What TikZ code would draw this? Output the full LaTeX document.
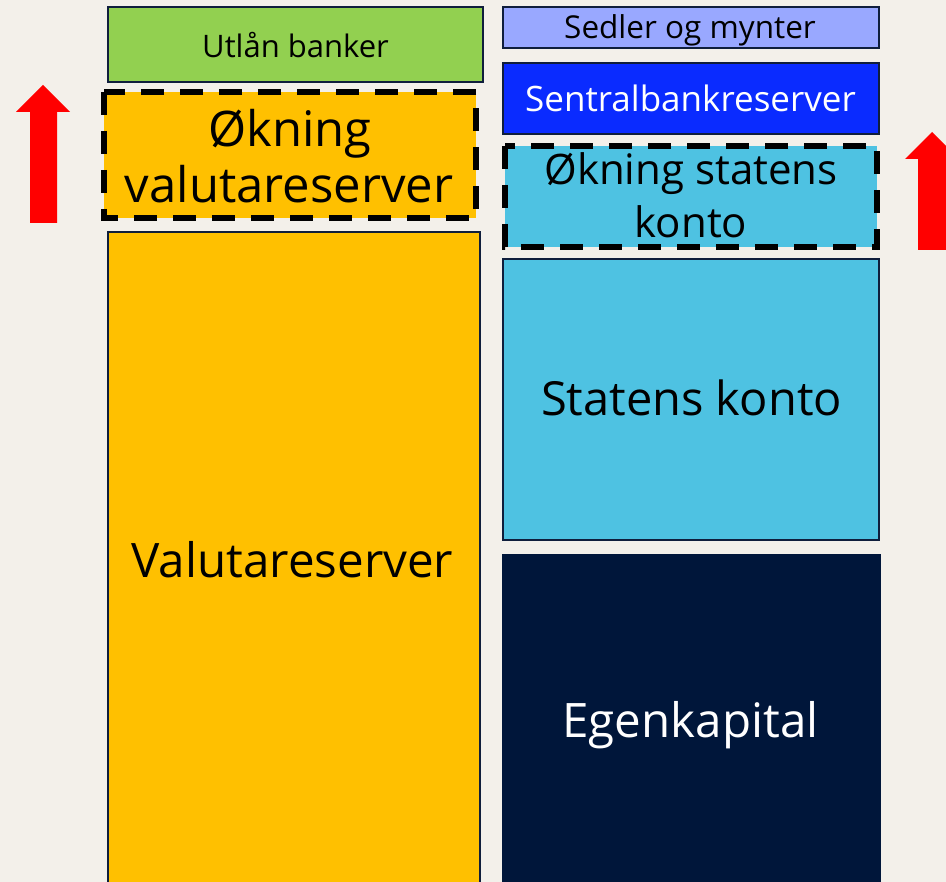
\documentclass[tikz,border=0pt]{standalone}
\usepackage{fontspec}
\setmainfont{Open Sans}
\definecolor{bg}{HTML}{F3F0EA}
\definecolor{grn}{HTML}{92D050}
\definecolor{ylw}{HTML}{FFC000}
\definecolor{lav}{HTML}{99A8FF}
\definecolor{blu}{HTML}{0A2BFF}
\definecolor{cyn}{HTML}{4EC2E2}
\definecolor{nvy}{HTML}{00163A}
\definecolor{edge}{HTML}{0F1E3C}
\tikzset{
  blk/.style={draw=edge, line width=1.6pt, inner sep=0pt, outer sep=0pt},
  dbox/.style={draw=black, line width=5.5pt, dash pattern=on 23pt off 16pt, inner sep=0pt, outer sep=0pt},
  lbl/.style={anchor=base, text=black, inner sep=0pt}
}
\begin{document}
\begin{tikzpicture}[x=1pt,y=-1pt]
\fill[bg] (0,0) rectangle (946,882);
\useasboundingbox (0,0) rectangle (946,882);
% left column
\draw[blk, fill=grn] (108,7) rectangle (483,82);
\node[lbl, font=\fontsize{31}{36}\selectfont] (utlan) at (295.5,58) {Utlån banker};
\draw[dbox, fill=ylw] (104,92) rectangle (476,218);
\node[lbl, font=\fontsize{49}{56}\selectfont] (okval1) at (290,147) {Økning};
\node[lbl, font=\fontsize{49}{56}\selectfont] (okval2) at (289,203) {valutareserver};
\draw[blk, fill=ylw] (108,232) rectangle (480,895);
\node[lbl, font=\fontsize{47.5}{54}\selectfont] (val) at (292.5,577) {Valutareserver};
% right column
\draw[blk, fill=lav] (503,7) rectangle (879,48);
\node[lbl, font=\fontsize{31.5}{36}\selectfont] (sedler) at (690,39) {Sedler og mynter};
\draw[blk, fill=blu] (503,63) rectangle (879,134);
\node[lbl, text=white, font=\fontsize{35}{40}\selectfont] (sbr) at (690.5,112) {Sentralbankreserver};
\draw[dbox, fill=cyn] (505,146) rectangle (877,247);
\node[lbl, font=\fontsize{42}{48}\selectfont] (okst1) at (691,185) {Økning statens};
\node[lbl, font=\fontsize{42}{48}\selectfont] (okst2) at (691,238) {konto};
\draw[blk, fill=cyn] (503,259) rectangle (879,540);
\node[lbl, font=\fontsize{47}{54}\selectfont] (st) at (691.5,416) {Statens konto};
\fill[nvy] (502,554) rectangle (881,895);
\node[lbl, text=white, font=\fontsize{47.5}{54}\selectfont] (egen) at (690.5,737) {Egenkapital};
% red arrows
\fill[red] (30,223) -- (30,112) -- (16,112) -- (43,85) -- (70,112) -- (57,112) -- (57,223) -- cycle;
\fill[red] (918,250) -- (918,159) -- (905,159) -- (932,132) -- (959,159) -- (946,159) -- (946,250) -- cycle;
\end{tikzpicture}
\end{document}
